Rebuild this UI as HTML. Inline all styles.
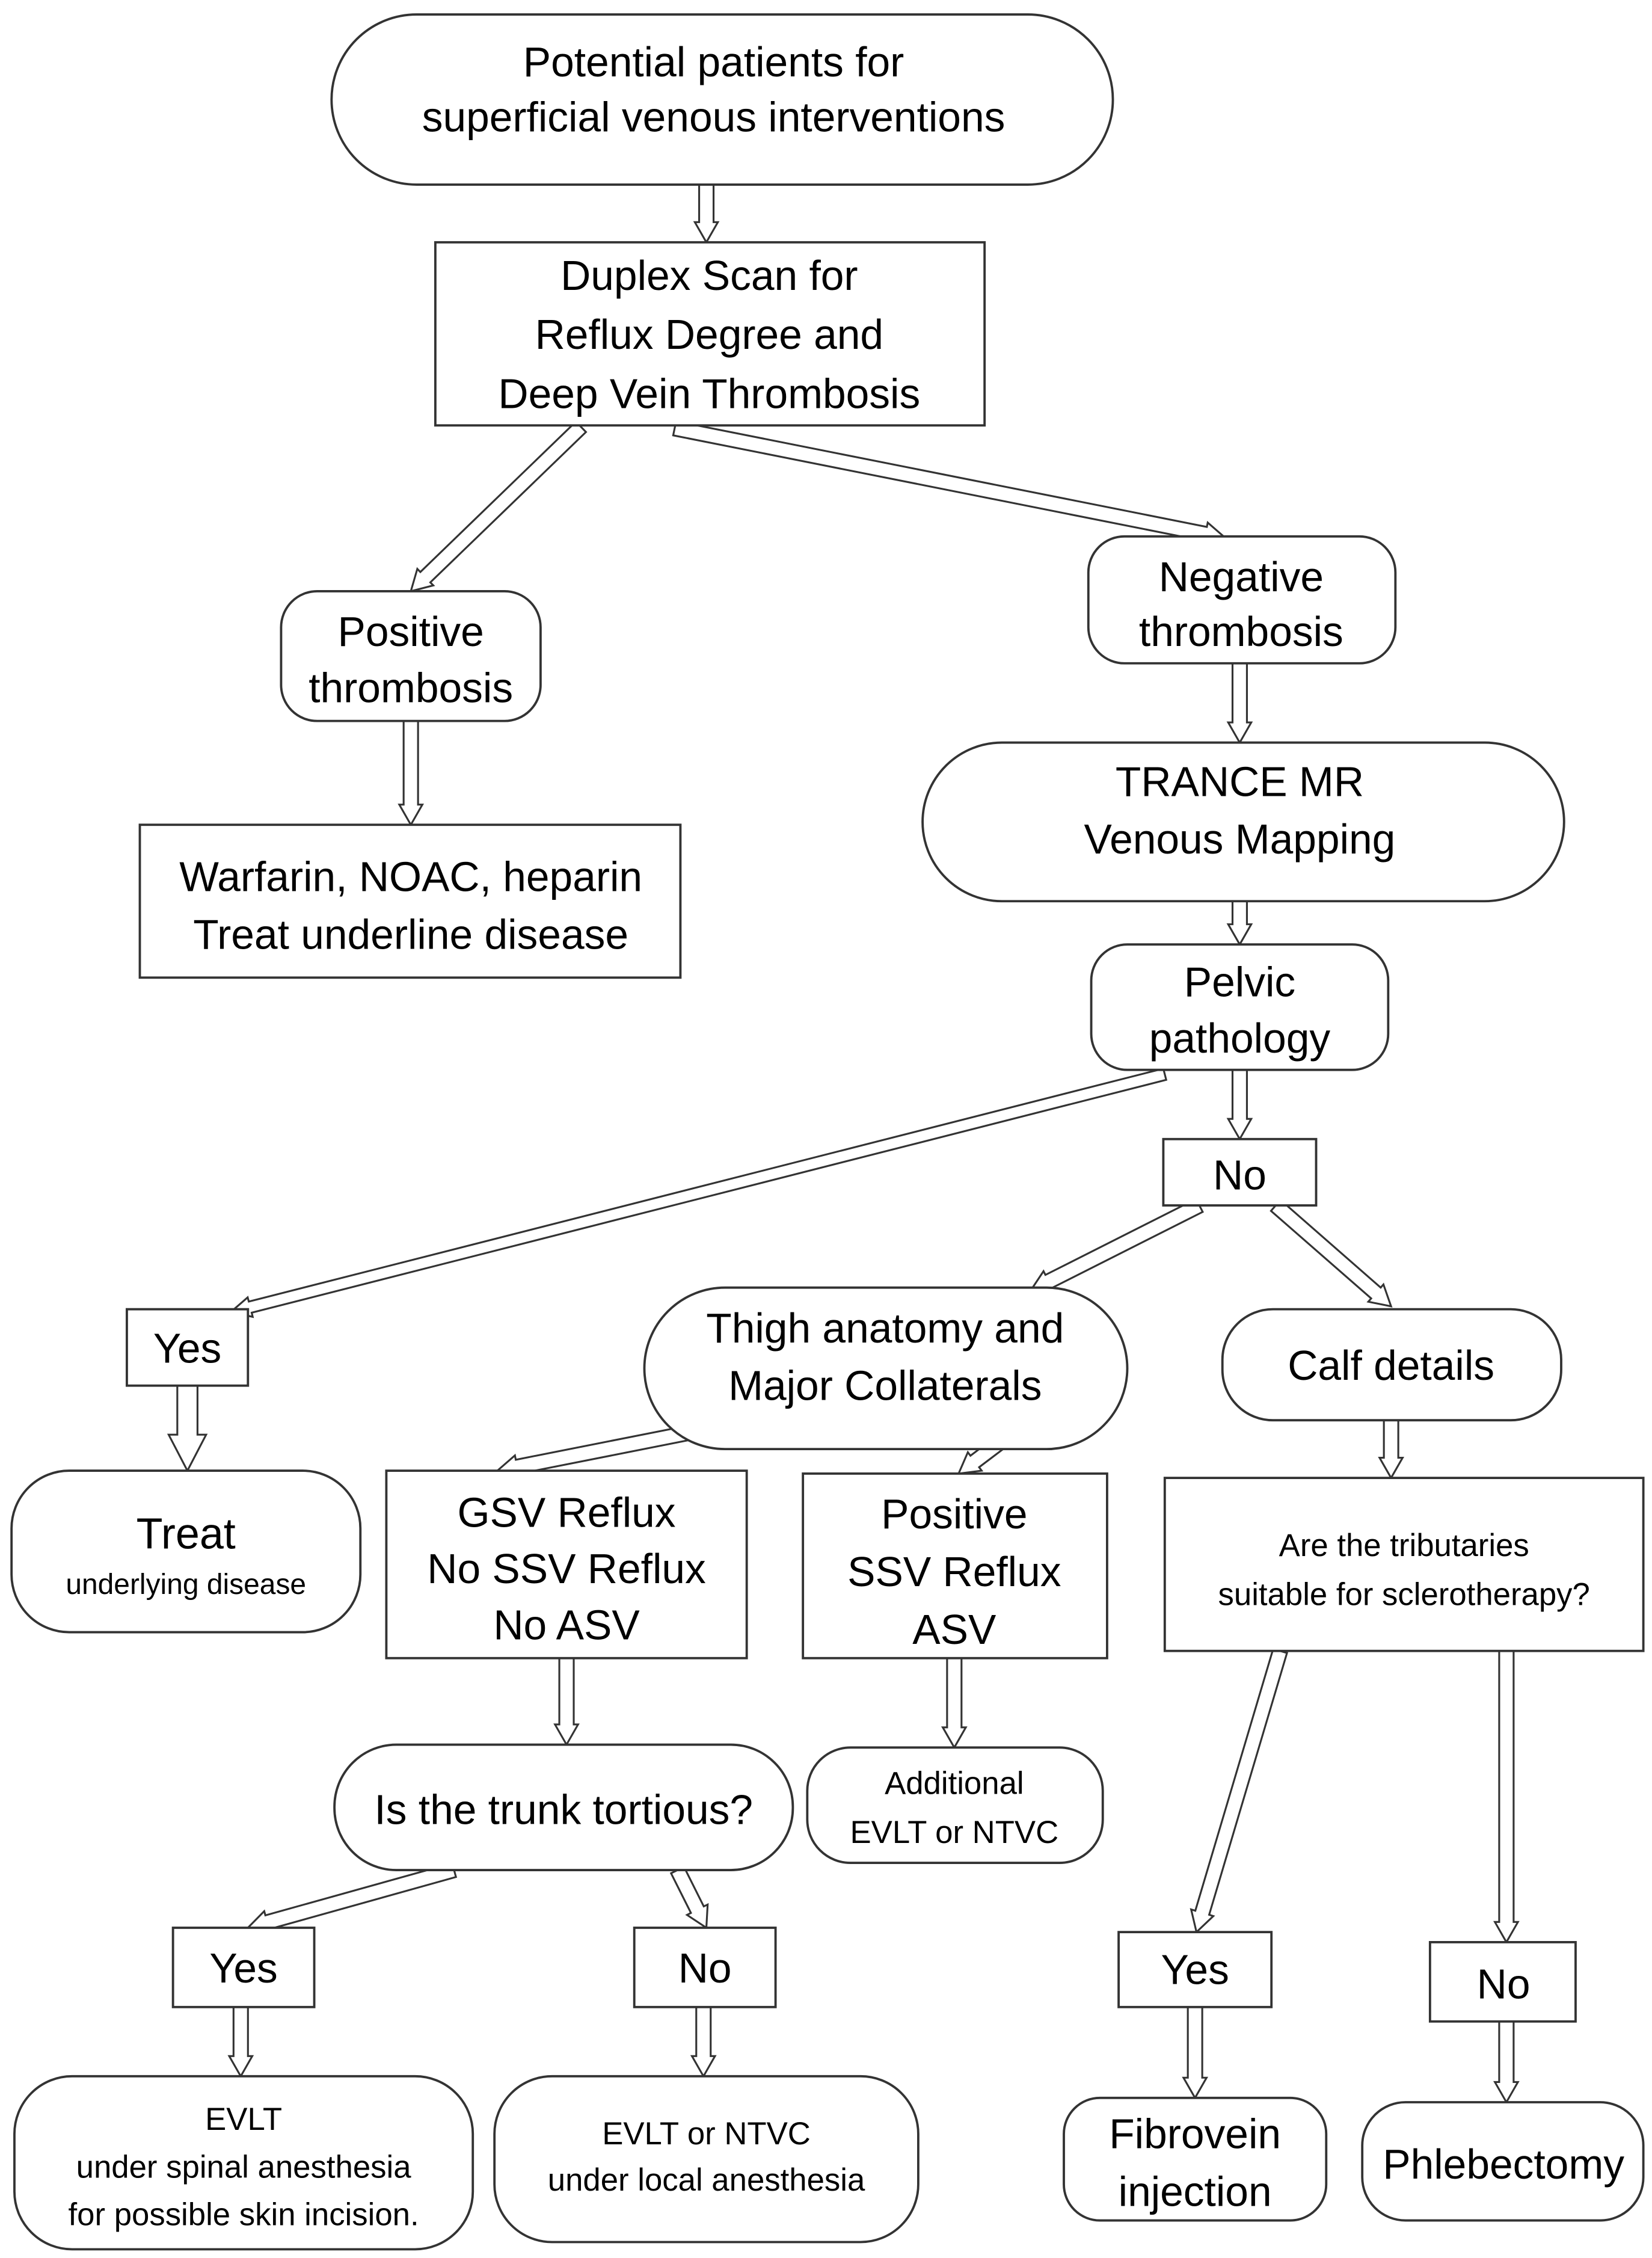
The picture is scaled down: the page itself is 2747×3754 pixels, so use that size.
<!DOCTYPE html>
<html><head><meta charset="utf-8"><style>
html,body{margin:0;padding:0;background:#fff;}
svg{display:block;}
text{font-family:"Liberation Sans",Arial,sans-serif;fill:#000;text-anchor:middle;dominant-baseline:central;}
.s{fill:#fff;stroke:#333;stroke-width:1.6;}
.a{fill:#fff;stroke:#333;stroke-width:1.3;}
</style></head><body>
<svg id="g" width="2747" height="3754" viewBox="0 0 1146 1566" xmlns="http://www.w3.org/2000/svg">
<g id="arrows"></g>
<rect class="s" x="230" y="10" width="542" height="118" rx="59"/>
<text x="495" y="43" font-size="29">Potential patients for</text>
<text x="495" y="81" font-size="29">superficial venous interventions</text>

<rect class="s" x="302" y="168" width="381" height="127"/>
<text x="492" y="191" font-size="29">Duplex Scan for</text>
<text x="492" y="232" font-size="29">Reflux Degree and</text>
<text x="492" y="273" font-size="29">Deep Vein Thrombosis</text>

<rect class="s" x="195" y="410" width="180" height="90" rx="25"/>
<text x="285" y="438" font-size="29">Positive</text>
<text x="285" y="477" font-size="29">thrombosis</text>

<rect class="s" x="97" y="572" width="375" height="106"/>
<text x="285" y="608" font-size="29">Warfarin, NOAC, heparin</text>
<text x="285" y="648" font-size="29">Treat underline disease</text>

<rect class="s" x="755" y="372" width="213" height="88" rx="25"/>
<text x="861" y="400" font-size="29">Negative</text>
<text x="861" y="438" font-size="29">thrombosis</text>

<rect class="s" x="640" y="515" width="445" height="110" rx="55"/>
<text x="860" y="542" font-size="29">TRANCE MR</text>
<text x="860" y="582" font-size="29">Venous Mapping</text>

<rect class="s" x="757" y="655" width="206" height="87" rx="25"/>
<text x="860" y="681" font-size="29">Pelvic</text>
<text x="860" y="720" font-size="29">pathology</text>

<rect class="s" x="807" y="790" width="106" height="46"/>
<text x="860" y="815" font-size="29">No</text>

<rect class="s" x="88" y="908" width="84" height="53"/>
<text x="130" y="935" font-size="29">Yes</text>

<rect class="s" x="8" y="1020" width="242" height="112" rx="40"/>
<text x="129" y="1064" font-size="30">Treat</text>
<text x="129" y="1099" font-size="20">underlying disease</text>

<rect class="s" x="447" y="893" width="335" height="112" rx="56"/>
<text x="614" y="921" font-size="29">Thigh anatomy and</text>
<text x="614" y="961" font-size="29">Major Collaterals</text>

<rect class="s" x="848" y="908" width="235" height="77" rx="35"/>
<text x="965" y="947" font-size="29">Calf details</text>

<rect class="s" x="268" y="1020" width="250" height="130"/>
<text x="393" y="1049" font-size="29">GSV  Reflux</text>
<text x="393" y="1088" font-size="29">No SSV Reflux</text>
<text x="393" y="1127" font-size="29">No ASV</text>

<rect class="s" x="557" y="1022" width="211" height="128"/>
<text x="662" y="1050" font-size="29">Positive</text>
<text x="662" y="1090" font-size="29">SSV Reflux</text>
<text x="662" y="1130" font-size="29">ASV</text>

<rect class="s" x="808" y="1025" width="332" height="120"/>
<text x="974" y="1072" font-size="22">Are the tributaries</text>
<text x="974" y="1106" font-size="22">suitable for sclerotherapy?</text>

<rect class="s" x="232" y="1210" width="318" height="87" rx="43"/>
<text x="391" y="1255" font-size="29">Is the trunk tortious?</text>

<rect class="s" x="560" y="1212" width="205" height="80" rx="30"/>
<text x="662" y="1237" font-size="22">Additional</text>
<text x="662" y="1271" font-size="22">EVLT or NTVC</text>

<rect class="s" x="120" y="1337" width="98" height="55"/>
<text x="169" y="1365" font-size="29">Yes</text>
<rect class="s" x="440" y="1337" width="98" height="55"/>
<text x="489" y="1365" font-size="29">No</text>

<rect class="s" x="10" y="1440" width="318" height="120" rx="40"/>
<text x="169" y="1470" font-size="22">EVLT</text>
<text x="169" y="1503" font-size="22">under spinal anesthesia</text>
<text x="169" y="1536" font-size="22">for possible skin incision.</text>

<rect class="s" x="343" y="1440" width="294" height="115" rx="40"/>
<text x="490" y="1480" font-size="22">EVLT or NTVC</text>
<text x="490" y="1512" font-size="22">under local anesthesia</text>

<rect class="s" x="776" y="1340" width="106" height="52"/>
<text x="829" y="1366" font-size="29">Yes</text>
<rect class="s" x="992" y="1347" width="101" height="55"/>
<text x="1043" y="1376" font-size="29">No</text>

<rect class="s" x="738" y="1455" width="182" height="85" rx="25"/>
<text x="829" y="1480" font-size="29">Fibrovein</text>
<text x="829" y="1520" font-size="29">injection</text>

<rect class="s" x="945" y="1458" width="195" height="82" rx="30"/>
<text x="1043" y="1501" font-size="29">Phlebectomy</text>
</svg>
<script>
(function(){
var g=document.getElementById('arrows');
function A(x1,y1,x2,y2,w,hw,hl){
w=w||5;hw=hw||8;hl=hl||14;
var dx=x2-x1,dy=y2-y1,L=Math.sqrt(dx*dx+dy*dy),ux=dx/L,uy=dy/L,px=-uy,py=ux;
var bx=x2-ux*hl,by=y2-uy*hl;
var pts=[[x1+px*w,y1+py*w],[bx+px*w,by+py*w],[bx+px*hw,by+py*hw],[x2,y2],[bx-px*hw,by-py*hw],[bx-px*w,by-py*w],[x1-px*w,y1-py*w]];
var p=document.createElementNS('http://www.w3.org/2000/svg','polygon');
p.setAttribute('class','a');
p.setAttribute('points',pts.map(function(q){return q[0].toFixed(1)+','+q[1].toFixed(1)}).join(' '));
g.appendChild(p);
}
A(490,128,490,168);
A(403,296,285,410);
A(468,297,850,373);
A(285,500,285,572);
A(860,460,860,515);
A(860,625,860,655);
A(860,742,860,790);
A(808,745,160,910,4,7,14);
A(130,961,130,1020,7,13,25);
A(832,836,715,895);
A(885,836,965,906);
A(537,982,345,1020);
A(718,982,665,1022);
A(965,985,965,1025);
A(393,1150,393,1210);
A(662,1150,662,1212);
A(315,1297,172,1337);
A(470,1297,490,1337);
A(167,1392,167,1440);
A(488,1392,488,1440);
A(888,1145,830,1340);
A(1045,1145,1045,1347);
A(829,1392,829,1455);
A(1045,1402,1045,1458);
})();
</script>
</body></html>
